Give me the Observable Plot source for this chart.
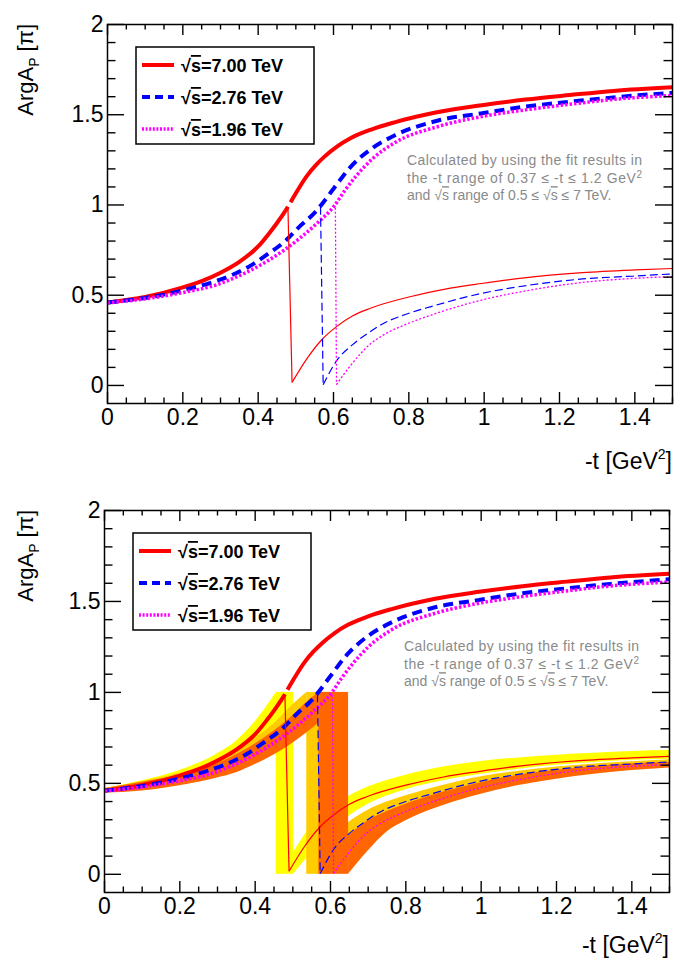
<!DOCTYPE html>
<html><head><meta charset="utf-8">
<script src="https://cdn.jsdelivr.net/npm/d3@7"></script>
<script src="https://cdn.jsdelivr.net/npm/@observablehq/plot@0.6"></script>
<style>
body{margin:0;background:#fff;}
#wrap{position:relative;width:685px;height:971px;overflow:hidden;}
.panel{position:absolute;left:0;}
</style></head><body>
<div id="wrap"><div id="p1" class="panel" style="top:0"></div><div id="p2" class="panel" style="top:480px"></div></div>
<script>
// ---------- tick values ----------
const xMajor = [0, 0.2, 0.4, 0.6, 0.8, 1.0, 1.2, 1.4];
const yMajor = [0, 0.5, 1, 1.5, 2];
const xMinor = d3.range(0, 1.5001, 0.05).filter(v => Math.abs(v * 5 - Math.round(v * 5)) > 1e-6);
const yMinor = d3.range(0.1, 2.0, 0.1).filter(v => Math.abs(v * 2 - Math.round(v * 2)) > 1e-6);
const wrapRange = [0, 1];

// ---------- legend ----------
const energies = ["7.00", "2.76", "1.96"];
const lineColors = ["#ff0000", "#0000ff", "#ff00ff"];
const bandColors = ["#ffff00", "#ffcc00", "#ff6600"];

// ---------- sqrt(s)=7.00 TeV ----------
// unwrapped phase (thick), before and after the jump
const t700a = [0, 0.1, 0.2, 0.25, 0.3, 0.35, 0.4, 0.43, 0.45, 0.47, 0.479];
const v700a = [0.46, 0.49, 0.543, 0.578, 0.625, 0.685, 0.77, 0.845, 0.9, 0.96, 0.99];
const t700b = [0.486, 0.5, 0.529, 0.555, 0.576, 0.61, 0.645, 0.70, 0.762, 0.878, 0.994, 1.11, 1.227, 1.343, 1.5];
const v700b = [1.015, 1.065, 1.16, 1.225, 1.268, 1.325, 1.37, 1.418, 1.458, 1.515, 1.553, 1.584, 1.609, 1.632, 1.652];
// wrapped phase (thin): jump and following branch
const t700j = [0.479, 0.49];
const v700j = [0.99, 0.017];
const t700w = [0.49, 0.53, 0.57, 0.608, 0.65, 0.698, 0.8, 0.9, 0.993, 1.1, 1.261, 1.4, 1.5];
const v700w = [0.017, 0.15, 0.256, 0.326, 0.385, 0.428, 0.49, 0.535, 0.565, 0.595, 0.625, 0.64, 0.648];

// ---------- sqrt(s)=2.76 TeV ----------
const t276 = [0, 0.1, 0.2, 0.29, 0.335, 0.38, 0.424, 0.469, 0.513, 0.549, 0.5655, 0.6, 0.645, 0.703, 0.762, 0.878, 0.994, 1.11, 1.227, 1.343, 1.5];
const v276 = [0.46, 0.485, 0.527, 0.58, 0.616, 0.664, 0.726, 0.795, 0.887, 0.955, 0.995, 1.09, 1.21, 1.315, 1.385, 1.468, 1.508, 1.545, 1.572, 1.596, 1.622];
const t276j = [0.5655, 0.5726];
const v276j = [0.99, 0.004];
const t276w = [0.5726, 0.61, 0.65, 0.694, 0.725, 0.8, 0.859, 0.993, 1.127, 1.261, 1.395, 1.5];
const v276w = [0.004, 0.142, 0.225, 0.293, 0.335, 0.40, 0.437, 0.51, 0.558, 0.59, 0.606, 0.618];

// ---------- sqrt(s)=1.96 TeV ----------
const t196 = [0, 0.1, 0.2, 0.29, 0.335, 0.38, 0.424, 0.469, 0.513, 0.557, 0.602, 0.63, 0.66, 0.703, 0.762, 0.878, 0.994, 1.11, 1.227, 1.343, 1.5];
const v196 = [0.458, 0.48, 0.515, 0.558, 0.594, 0.638, 0.689, 0.75, 0.82, 0.90, 0.995, 1.08, 1.16, 1.255, 1.344, 1.435, 1.49, 1.527, 1.558, 1.585, 1.607];
const t196j = [0.605, 0.608];
const v196j = [0.985, 0.005];
const t196w = [0.608, 0.645, 0.698, 0.725, 0.8, 0.859, 0.993, 1.127, 1.261, 1.395, 1.5];
const v196w = [0.005, 0.11, 0.23, 0.27, 0.345, 0.39, 0.473, 0.53, 0.571, 0.593, 0.603];

// ---------- uncertainty bands (lower panel) ----------
const b700preT  = [0, 0.1, 0.2, 0.3, 0.35, 0.4, 0.43, 0.456];
const b700preLo = [0.45, 0.471, 0.519, 0.588, 0.644, 0.715, 0.775, 0.835];
const b700preHi = [0.47, 0.514, 0.571, 0.663, 0.732, 0.838, 0.921, 1.0];
const b700strip = [0.456, 0.502];
const b700postT  = [0.502, 0.55, 0.6, 0.65, 0.7, 0.8, 0.9, 1.0, 1.1, 1.2, 1.3, 1.4, 1.5];
const b700postLo = [0.0, 0.12, 0.235, 0.32, 0.385, 0.465, 0.515, 0.55, 0.578, 0.6, 0.615, 0.627, 0.633];
const b700postHi = [0.12, 0.265, 0.355, 0.43, 0.48, 0.545, 0.59, 0.62, 0.64, 0.655, 0.665, 0.675, 0.68];

const b276preT  = [0, 0.1, 0.2, 0.3, 0.35, 0.4, 0.45, 0.5, 0.537];
const b276preLo = [0.448, 0.465, 0.501, 0.555, 0.588, 0.64, 0.708, 0.785, 0.863];
const b276preHi = [0.472, 0.509, 0.555, 0.624, 0.676, 0.747, 0.827, 0.932, 1.0];
const b276strip = [0.537, 0.60];
const b276postT  = [0.60, 0.65, 0.7, 0.75, 0.8, 0.9, 1.0, 1.1, 1.2, 1.3, 1.4, 1.5];
const b276postLo = [0.0, 0.143, 0.238, 0.313, 0.358, 0.428, 0.485, 0.523, 0.553, 0.575, 0.591, 0.602];
const b276postHi = [0.2, 0.287, 0.352, 0.397, 0.432, 0.49, 0.537, 0.567, 0.59, 0.607, 0.619, 0.63];

const b196preT  = [0, 0.1, 0.2, 0.3, 0.35, 0.4, 0.45, 0.5, 0.54, 0.569];
const b196preLo = [0.446, 0.458, 0.487, 0.529, 0.558, 0.603, 0.656, 0.721, 0.783, 0.831];
const b196preHi = [0.47, 0.506, 0.544, 0.607, 0.657, 0.717, 0.788, 0.872, 0.952, 1.0];
const b196strip = [0.569, 0.648];
const b196postT  = [0.648, 0.7, 0.75, 0.8, 0.9, 1.0, 1.1, 1.2, 1.3, 1.4, 1.5];
const b196postLo = [0.0, 0.128, 0.233, 0.294, 0.378, 0.44, 0.488, 0.523, 0.55, 0.571, 0.585];
const b196postHi = [0.212, 0.294, 0.345, 0.385, 0.452, 0.504, 0.545, 0.572, 0.592, 0.608, 0.615];

// ---------- helpers ----------
const rows = (ts, vs) => ts.map((t, i) => ({t, v: vs[i]}));
const bandRows = (ts, lo, hi) => ts.map((t, i) => ({t, lo: lo[i], hi: hi[i]}));
const FONT = "'Liberation Sans', Arial, Helvetica, sans-serif";

const bandSets = [
  {color: bandColors[0], preT: b700preT, preLo: b700preLo, preHi: b700preHi, strip: b700strip, postT: b700postT, postLo: b700postLo, postHi: b700postHi},
  {color: bandColors[1], preT: b276preT, preLo: b276preLo, preHi: b276preHi, strip: b276strip, postT: b276postT, postLo: b276postLo, postHi: b276postHi},
  {color: bandColors[2], preT: b196preT, preLo: b196preLo, preHi: b196preHi, strip: b196strip, postT: b196postT, postLo: b196postLo, postHi: b196postHi}
];

const cap = {strokeLinecap: "butt", strokeLinejoin: "miter"};
const styleThick = [
  {stroke: lineColors[0], strokeWidth: 4, ...cap},
  {stroke: lineColors[1], strokeWidth: 4, strokeDasharray: "10,6", ...cap},
  {stroke: lineColors[2], strokeWidth: 3.5, strokeDasharray: "2.5,2", ...cap}
];
const styleThin = [
  {stroke: lineColors[0], strokeWidth: 1.2, ...cap},
  {stroke: lineColors[1], strokeWidth: 1.2, strokeDasharray: "8,4", ...cap},
  {stroke: lineColors[2], strokeWidth: 1.3, strokeDasharray: "2,2", ...cap}
];

function makePanel(cfg) {
  const {height, marginTop, marginBottom, marginLeft, marginRight, bands} = cfg;
  const width = 685;
  const ph = height - marginTop - marginBottom;
  const pw = width - marginLeft - marginRight;
  const marks = [];
  if (bands) {
    for (const b of bandSets) {
      marks.push(Plot.areaY(bandRows(b.preT, b.preLo, b.preHi), {x: "t", y1: "lo", y2: "hi", fill: b.color, curve: "monotone-x"}));
      marks.push(Plot.rect([{a: b.strip[0], b: b.strip[1], lo: wrapRange[0], hi: wrapRange[1]}], {x1: "a", x2: "b", y1: "lo", y2: "hi", fill: b.color}));
      marks.push(Plot.areaY(bandRows(b.postT, b.postLo, b.postHi), {x: "t", y1: "lo", y2: "hi", fill: b.color, curve: "monotone-x"}));
    }
  }
  const xy = {x: "t", y: "v", curve: "monotone-x"};
  // thick (unwrapped)
  marks.push(Plot.line(rows(t700a, v700a), {...xy, ...styleThick[0]}));
  marks.push(Plot.line(rows(t700b, v700b), {...xy, ...styleThick[0]}));
  marks.push(Plot.line(rows(t276, v276), {...xy, ...styleThick[1]}));
  marks.push(Plot.line(rows(t196, v196), {...xy, ...styleThick[2]}));
  // thin (wrapped)
  marks.push(Plot.line(rows(t700j, v700j), {x: "t", y: "v", ...styleThin[0]}));
  marks.push(Plot.line(rows(t700w, v700w), {...xy, ...styleThin[0]}));
  marks.push(Plot.line(rows(t276j, v276j), {x: "t", y: "v", ...styleThin[1]}));
  marks.push(Plot.line(rows(t276w, v276w), {...xy, ...styleThin[1]}));
  marks.push(Plot.line(rows(t196j, v196j), {x: "t", y: "v", ...styleThin[2]}));
  marks.push(Plot.line(rows(t196w, v196w), {...xy, ...styleThin[2]}));
  // ROOT-style inward ticks on all four sides
  const tk = {stroke: "#000", strokeWidth: 1.4};
  marks.push(Plot.tickX(xMajor, {x: d => d, insetTop: ph - 11, ...tk}));
  marks.push(Plot.tickX(xMajor, {x: d => d, insetBottom: ph - 11, ...tk}));
  marks.push(Plot.tickX(xMinor, {x: d => d, insetTop: ph - 5.5, ...tk}));
  marks.push(Plot.tickX(xMinor, {x: d => d, insetBottom: ph - 5.5, ...tk}));
  marks.push(Plot.tickY(yMajor, {y: d => d, insetRight: pw - 17, ...tk}));
  marks.push(Plot.tickY(yMajor, {y: d => d, insetLeft: pw - 17, ...tk}));
  marks.push(Plot.tickY(yMinor, {y: d => d, insetRight: pw - 8.5, ...tk}));
  marks.push(Plot.tickY(yMinor, {y: d => d, insetLeft: pw - 8.5, ...tk}));
  marks.push(Plot.frame({stroke: "#000", strokeWidth: 1.5}));
  marks.push(Plot.axisX(xMajor, {tickSize: 0, tickPadding: 5, fontSize: 23, label: null, tickFormat: d => String(+d.toFixed(1))}));
  marks.push(Plot.axisY(yMajor, {tickSize: 0, tickPadding: 4, fontSize: 23, label: null, tickFormat: d => String(d)}));

  const svg = Plot.plot({
    width, height, marginTop, marginBottom, marginLeft, marginRight,
    x: {domain: [0, 1.5], axis: null},
    y: {domain: [-0.1, 2], axis: null},
    style: {fontFamily: FONT, color: "#000", background: "#fff", overflow: "visible"},
    marks
  });

  const s = d3.select(svg);
  // y-axis title
  const yl = s.append("text")
    .attr("transform", `translate(33,${marginTop}) rotate(-90)`)
    .attr("text-anchor", "end").attr("font-size", 22).attr("font-family", FONT).attr("fill", "#000");
  yl.append("tspan").text("ArgA");
  yl.append("tspan").attr("font-size", 14).attr("dy", 6).text("P");
  yl.append("tspan").attr("dy", -6).text(" [π]");
  // x-axis title
  const xl = s.append("text")
    .attr("x", width - marginRight).attr("y", height - cfg.xTitleFromBottom)
    .attr("text-anchor", "end").attr("font-size", 23).attr("font-family", FONT).attr("fill", "#000");
  xl.append("tspan").text("-t [GeV");
  xl.append("tspan").attr("font-size", 14).attr("dy", -10).text("2");
  xl.append("tspan").attr("dy", 10).text("]");

  // legend
  const lg = s.append("g").attr("transform", `translate(${marginLeft + 29},${marginTop + 23})`).attr("text-anchor", "start");
  lg.append("rect").attr("width", 178).attr("height", 97).attr("fill", "#fff").attr("stroke", "#000").attr("stroke-width", 1.5);
  const rowY = [18, 50, 82];
  const legendStyles = [
    {w: 4, dash: null},
    {w: 4, dash: "8,5"},
    {w: 3.5, dash: "2,1.6"}
  ];
  energies.forEach((e, i) => {
    const ln = lg.append("line").attr("x1", 6).attr("x2", 38).attr("y1", rowY[i]).attr("y2", rowY[i])
      .attr("stroke", lineColors[i]).attr("stroke-width", legendStyles[i].w);
    if (legendStyles[i].dash) ln.attr("stroke-dasharray", legendStyles[i].dash);
    const tx = lg.append("text").attr("x", 45).attr("y", rowY[i] + 7).attr("text-anchor", "start")
      .attr("font-size", 18).attr("font-weight", "bold").attr("font-family", FONT).attr("fill", "#000");
    tx.append("tspan").text("√");
    tx.append("tspan").style("text-decoration", "overline").text("s");
    tx.append("tspan").text(`=${e} TeV`);
  });

  // annotation
  const an = s.append("g").attr("transform", `translate(${marginLeft + 300},${marginTop + 141})`)
    .attr("text-anchor", "start")
    .attr("font-size", 14).attr("font-family", FONT).attr("fill", "#8a8a8a");
  an.append("text").attr("y", 0).attr("textLength", 235).attr("lengthAdjust", "spacing")
    .text("Calculated by using the fit results in");
  const l2 = an.append("text").attr("y", 17.6).attr("textLength", 235).attr("lengthAdjust", "spacing");
  l2.append("tspan").text("the -t range of 0.37 ≤ -t ≤ 1.2 GeV");
  l2.append("tspan").attr("font-size", 10).attr("dy", -5).text("2");
  const l3 = an.append("text").attr("y", 35.2);
  l3.append("tspan").text("and √");
  l3.append("tspan").style("text-decoration", "overline").text("s");
  l3.append("tspan").text(" range of 0.5 ≤ √");
  l3.append("tspan").style("text-decoration", "overline").text("s");
  l3.append("tspan").text(" ≤ 7 TeV.");
  return svg;
}

document.getElementById("p1").appendChild(makePanel({
  height: 480, marginTop: 24, marginBottom: 77, marginLeft: 107, marginRight: 13, bands: false, xTitleFromBottom: 11
}));
document.getElementById("p2").appendChild(makePanel({
  height: 491, marginTop: 30, marginBottom: 79, marginLeft: 104, marginRight: 16, bands: true, xTitleFromBottom: 18
}));
</script>
</body></html>
